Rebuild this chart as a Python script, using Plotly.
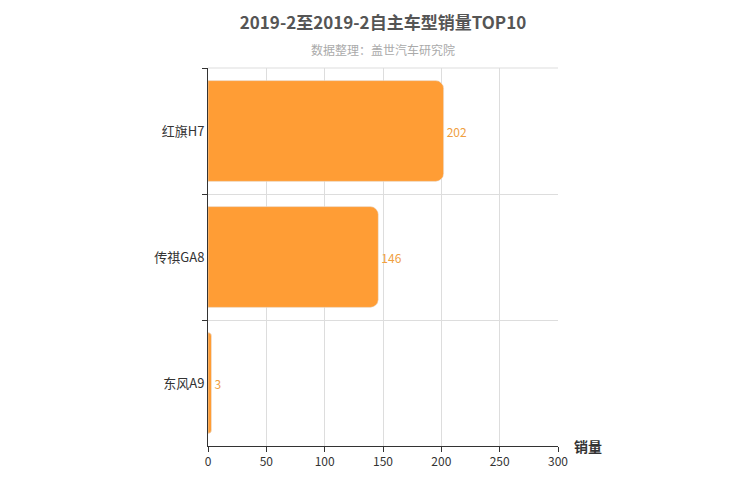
import plotly.graph_objects as go

models = ["红旗H7", "传祺GA8", "东风A9"]
sales = [202, 146, 3]

fig = go.Figure(go.Bar(
    x=sales, y=models, orientation="h", width=0.8,
    marker=dict(color="#ff9d35", cornerradius=8),
    text=sales, textposition="outside",
    textfont=dict(color="#f0a040", size=12, family="Noto Sans CJK SC"),
    cliponaxis=False,
))
fig.update_layout(
    width=750, height=500, plot_bgcolor="white", paper_bgcolor="white",
    margin=dict(l=200, r=200, t=60, b=62),
    font=dict(family="Noto Sans CJK SC", color="#333"),
    showlegend=False,
    title=dict(text="<b>2019-2至2019-2自主车型销量TOP10</b>", x=0.5, xanchor="center",
               y=0.97, yanchor="middle", font=dict(size=17, color="#555")),
    annotations=[
        dict(text="数据整理：盖世汽车研究院", x=0.5, xref="paper", y=41, yref="paper",
             showarrow=False, font=dict(size=12, color="#aaa")),
        dict(text="<b>销量</b>", xref="paper", yref="paper", x=1.04, y=0, xanchor="left",
             yanchor="middle", showarrow=False, font=dict(size=14, color="#333")),
    ],
)
fig.layout.annotations[0].update(y=1.05, yanchor="middle")
fig.update_xaxes(range=[0, 300], dtick=50, showgrid=True, gridcolor="#ddd",
                 showline=True, linecolor="#333", ticks="outside", ticklen=5,
                 tickcolor="#333", zeroline=False, mirror=False, tickfont=dict(size=12))
fig.update_yaxes(autorange="reversed", tickson="boundaries", showgrid=True, gridcolor="#ddd",
                 showline=True, linecolor="#333", ticks="outside", ticklen=5,
                 tickcolor="#333", tickfont=dict(size=13, color="#333"))
fig.add_shape(type="line", xref="paper", yref="paper", x0=0, x1=1, y0=1, y1=1,
              line=dict(color="#ddd", width=1))
fig.write_html("out.html")
